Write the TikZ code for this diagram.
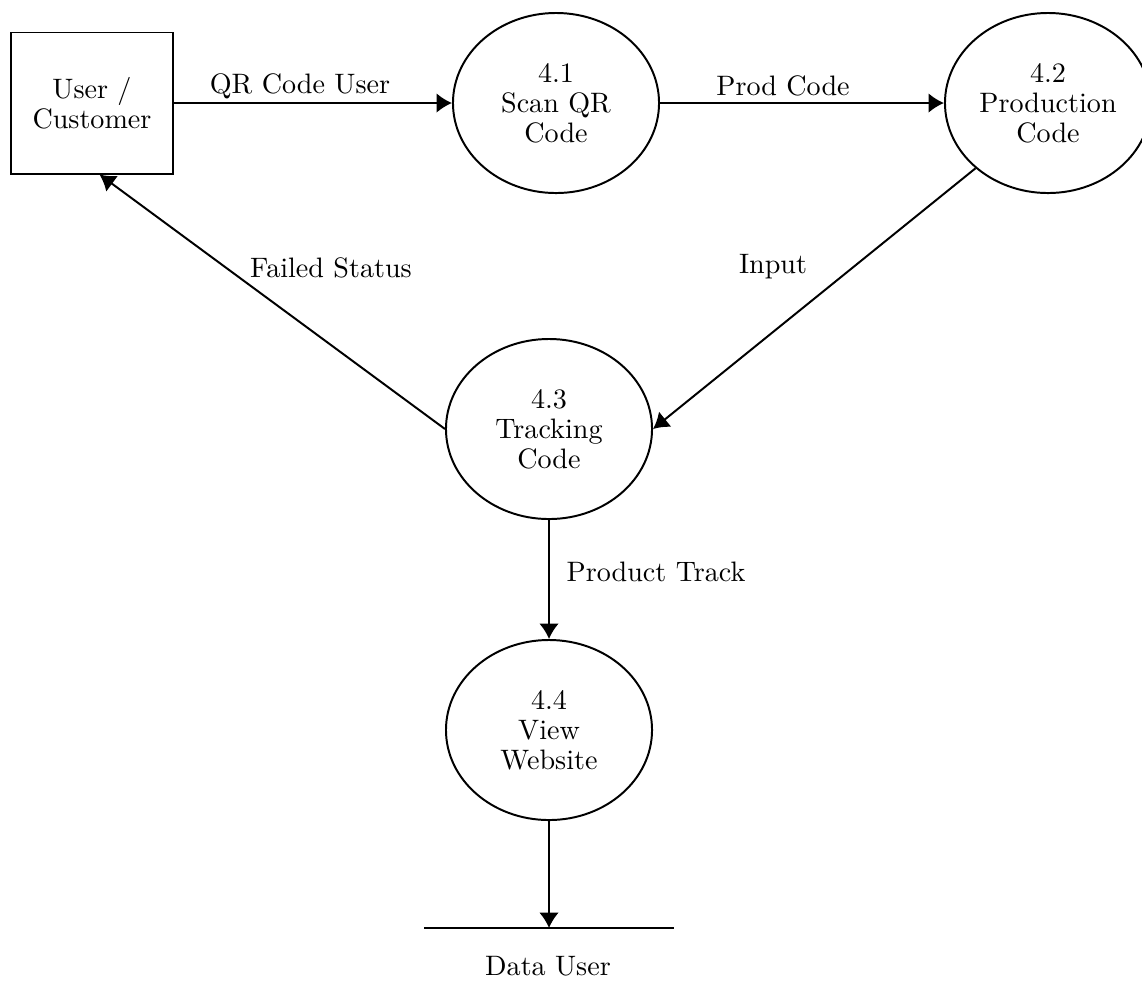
\documentclass[tikz,border=0pt]{standalone}
\usepackage{tikz}
\usetikzlibrary{shapes.geometric,arrows.meta}

\begin{document}
\begin{tikzpicture}[x=0.0125cm,y=-0.0125cm,>={Latex[length=5.5pt,width=7pt]},
    every node/.style={font=\fontsize{10}{10.7}\selectfont},
    entity/.style={draw,line width=0.7pt,minimum width=2.025cm,minimum height=1.7625cm,align=center,inner sep=0pt},
    proc/.style={draw,ellipse,line width=0.7pt,minimum width=2.575cm,minimum height=2.25cm,align=center,inner sep=0pt},
    flow/.style={->,line width=0.7pt},
    lbl/.style={inner sep=0pt}]
        \useasboundingbox (0,0) rectangle (1142,994);

        % external entity and processes
        \node [entity] (user) at (92,103) {User /\\Customer};
        \node [proc] (scan) at (556,103) {4.1\\Scan QR\\Code};
        \node [proc] (prod) at (1048,103) {4.2\\Production\\Code};
        \node [proc] (track) at (549,429) {4.3\\Tracking\\Code};
        \node [proc] (web) at (549,730) {4.4\\View\\Website};

        % data store
        \coordinate (storeL) at (424,928);
        \coordinate (storeR) at (674,928);
        \coordinate (store) at (549,928);
        \draw [line width=0.7pt] (storeL) -- (storeR);
        \node [lbl] (storename) at (548,966) {Data User};

        % data flows
        \draw [flow] (user) -- (scan);
        \draw [flow] (scan) -- (prod);
        \draw [flow] (prod.222) -- (track.east);
        \draw [flow] (track.west) -- (user.-84);
        \draw [flow] (track.south) -- (web.north);
        \draw [flow] (web.south) -- (store);

        % flow labels
        \node [lbl] (qrlbl) at (300,86) {QR Code User};
        \node [lbl] (prodlbl) at (783,86) {Prod Code};
        \node [lbl] (inlbl) at (773,267) {Input};
        \node [lbl] (faillbl) at (331,268) {Failed Status};
        \node [lbl] (tracklbl) at (656,572) {Product Track};
\end{tikzpicture}
\end{document}
